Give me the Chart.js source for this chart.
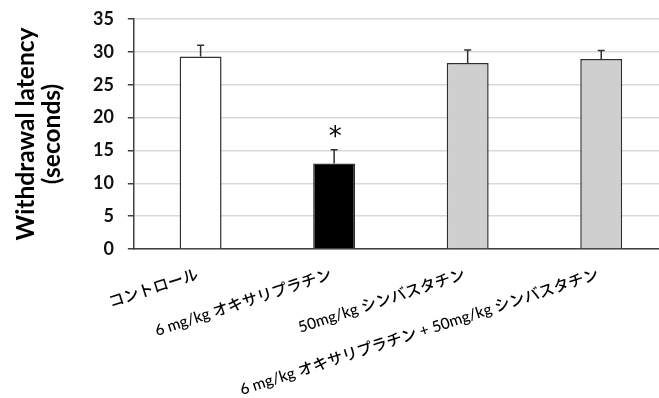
<!DOCTYPE html>
<html><head><meta charset="utf-8">
<script src="https://cdn.jsdelivr.net/npm/chart.js@4/dist/chart.umd.min.js"></script>
<style>
html,body{margin:0;padding:0;background:#fff;overflow:hidden;width:659px;height:398px}
#wrap{position:relative;width:668px;height:398px}
</style></head><body>
<div id="wrap"><canvas id="c" width="668" height="398"></canvas></div>
<script>
const categories = ['コントロール', '6 mg/kg オキサリプラチン', '50mg/kg シンバスタチン', '6 mg/kg オキサリプラチン + 50mg/kg シンバスタチン'];
const latency = [29.3, 13.0, 28.3, 28.9];
const sem = [1.7, 2.1, 2.0, 1.3];
const marks = ['', '*', '', ''];
const yMin = 0, yMax = 35, yStep = 5;

const barColors = ['#ffffff', '#000000', '#d0cfcf', '#d0cfcf'];

const errorBars = {
  id: 'errorBars',
  afterDatasetsDraw(chart) {
    const ctx = chart.ctx, y = chart.scales.y;
    const meta = chart.getDatasetMeta(0);
    ctx.save();
    ctx.strokeStyle = '#303030';
    ctx.lineWidth = 1.5;
    meta.data.forEach((bar, i) => {
      const x = bar.x;
      const y0 = y.getPixelForValue(latency[i]);
      const y1 = y.getPixelForValue(latency[i] + sem[i]);
      ctx.beginPath();
      ctx.moveTo(x, y0); ctx.lineTo(x, y1);
      ctx.moveTo(x - 3.5, y1); ctx.lineTo(x + 3.5, y1);
      ctx.stroke();
      if (marks[i]) {
        ctx.fillStyle = '#000';
        ctx.font = '26px "DejaVu Sans"';
        ctx.textAlign = 'center';
        ctx.textBaseline = 'middle';
        ctx.fillText(marks[i], x + 1, y1 - 12);
      }
    });
    ctx.restore();
  },
  afterDraw(chart) {
    const ctx = chart.ctx, xs = chart.scales.x;
    ctx.save();
    ctx.fillStyle = '#000';
    ctx.font = '500 15.5px Lato, "Noto Sans CJK JP"';
    ctx.textAlign = 'right';
    ctx.textBaseline = 'middle';
    categories.forEach((lab, i) => {
      const x = xs.getPixelForValue(i) - 3;
      ctx.save();
      ctx.translate(x, chart.chartArea.bottom + 25);
      ctx.rotate(-18 * Math.PI / 180);
      ctx.fillText(lab, 0, 0);
      ctx.restore();
    });
    ctx.restore();
  }
};

new Chart(document.getElementById('c'), {
  type: 'bar',
  data: {
    labels: categories,
    datasets: [{
      data: latency,
      backgroundColor: barColors,
      borderColor: '#303030',
      borderWidth: 1.5,
      borderSkipped: 'bottom',
      categoryPercentage: 1,
      barPercentage: 0.314
    }]
  },
  options: {
    responsive: false,
    animation: false,
    devicePixelRatio: 1,
    layout: { padding: { top: 19, bottom: 141, left: 0, right: 0 } },
    plugins: { legend: { display: false }, tooltip: { enabled: false } },
    scales: {
      x: {
        grid: { display: false },
        border: { display: true, color: '#404040', width: 1.5 },
        ticks: { display: false }
      },
      y: {
        min: yMin, max: yMax,
        afterFit(scale) { scale.paddingTop = 0; },
        ticks: { stepSize: yStep, color: '#111', padding: 14, font: { family: 'Lato', size: 18, weight: 'bold' } },
        grid: { color: '#d9d9d9', lineWidth: 1.5, tickColor: '#404040', tickLength: 6, drawTicks: true },
        border: { display: true, color: '#404040', width: 1.5 },
        title: {
          display: true,
          text: ['Withdrawal latency', '(seconds)'],
          color: '#000',
          font: { family: 'Lato', size: 24.5, weight: 'bold', lineHeight: 1.06 },
          padding: { top: 13, bottom: 14 }
        }
      }
    }
  },
  plugins: [errorBars]
});
</script>
</body></html>
